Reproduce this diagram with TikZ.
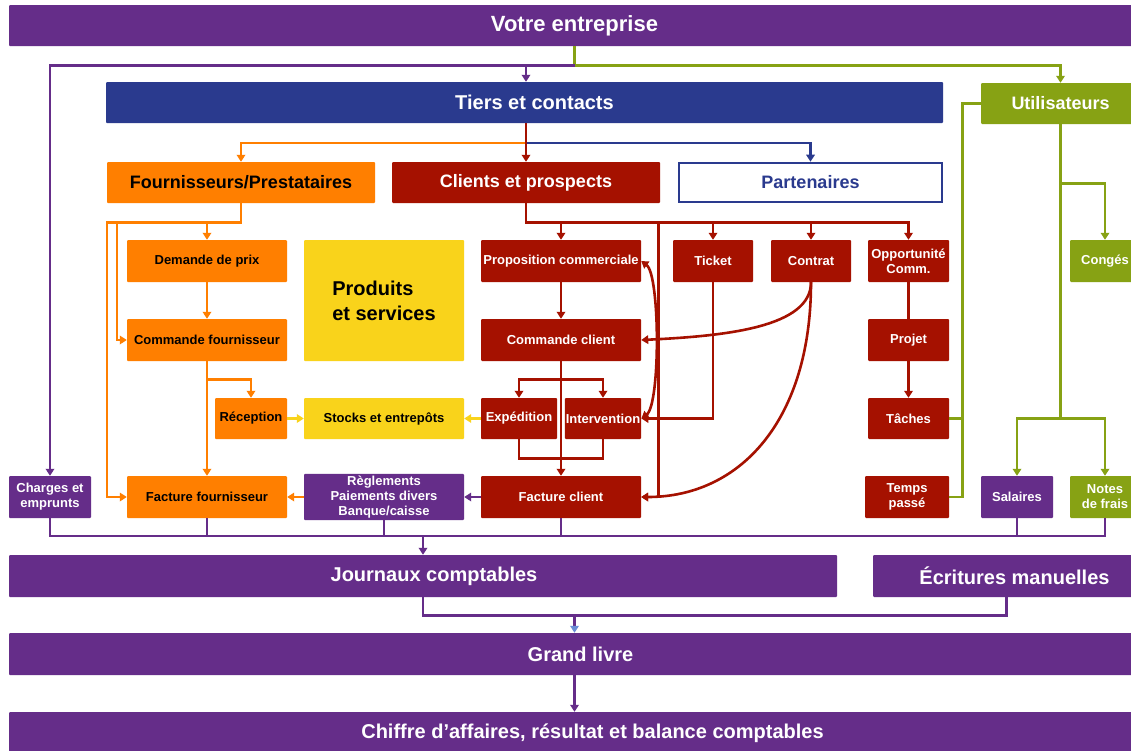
\documentclass[tikz,border=0pt]{standalone}
\usepackage{fontspec}
\setmainfont{Liberation Sans}
\usetikzlibrary{arrows.meta,calc}
\definecolor{cpur}{HTML}{652D89}
\definecolor{cblu}{HTML}{2A3A8E}
\definecolor{corg}{HTML}{FF7F00}
\definecolor{cred}{HTML}{A51100}
\definecolor{cgrn}{HTML}{87A214}
\definecolor{cyel}{HTML}{F9D31B}
\definecolor{cltb}{HTML}{6A8DD6}
\begin{document}
\begin{tikzpicture}[x=1pt,y=-1pt,
  bx/.style={rectangle, rounded corners=1pt, inner xsep=1pt, inner ysep=2pt, align=center,
    font=\bfseries\fontsize{13}{15}\selectfont, text=white},
  sz/.style 2 args={minimum width=#1pt, minimum height=#2pt},
  hd/.style={font=\bfseries\fontsize{18}{21}\selectfont},
  hg/.style={font=\bfseries\fontsize{20}{24}\selectfont},
  ln/.style={line width=2.6pt},
  arr/.style={ln, -{Triangle[length=7pt,width=8.5pt]}},
  arrb/.style={ln, {Triangle[length=7pt,width=8.5pt]}-{Triangle[length=7pt,width=8.5pt]}},
  fpur/.style={bx, fill=cpur},
  fblu/.style={bx, fill=cblu},
  forg/.style={bx, fill=corg, text=black},
  fred/.style={bx, fill=cred},
  fgrn/.style={bx, fill=cgrn},
  fyel/.style={bx, fill=cyel, text=black}
]
\useasboundingbox (0,0) rectangle (1131,750);
\fill[white] (0,0) rectangle (1131,750);

% ---------- nodes ----------
\node[fpur, sz={1131}{41}, font=\bfseries\fontsize{22}{26}\selectfont] (top) at (574.5,25.5) {Votre entreprise};
\node[fblu, sz={837}{41}, font=\bfseries\fontsize{20}{24}\selectfont] (tiers) at (524.5,102.5) {\hspace*{20pt}Tiers et contacts};
\node[fgrn, sz={159}{41}, hd] (utl) at (1060.5,103.5) {Utilisateurs};
\node[forg, sz={268}{41}, hd] (four) at (241,182.5) {Fournisseurs/Prestataires};
\node[fred, sz={268}{41}, hd] (clients) at (526,182.5) {Clients et prospects};
\node[bx, sz={263}{39}, hd, fill=white, draw=cblu, line width=2.6pt, text=cblu, rounded corners=0pt] (part) at (810.5,182.5) {Partenaires};

\node[forg, sz={160}{42}] (demande) at (207,261) {Demande de prix};
\node[fyel, sz={160}{121}, align=left, font=\bfseries\fontsize{20}{25}\selectfont] (prod) at (384,300.5) {\raisebox{-3pt}{Produits}\\\raisebox{-3pt}{et services}};
\node[forg, sz={160}{42}] (cfour) at (207,340) {Commande fournisseur};
\node[forg, sz={72}{41}] (reception) at (251,418.5) {Réception};
\node[fyel, sz={160}{41}] (stocks) at (384,418.5) {Stocks et entrepôts};
\node[forg, sz={160}{42}] (ffour) at (207,497) {Facture fournisseur};
\node[fpur, sz={160}{42}] (regl) at (384,497) {Règlements\\Paiements divers\\Banque/caisse};
\node[fpur, sz={82}{42}] (charges) at (50,497) {Charges et\\emprunts};

\node[fred, sz={160}{42}] (prop) at (561,261) {Proposition commerciale};
\node[fred, sz={80}{42}] (ticket) at (713,261) {Ticket};
\node[fred, sz={80}{42}] (contrat) at (811,261) {Contrat};
\node[fred, sz={81}{42}] (opp) at (908.5,261) {Opportunité\\Comm.};
\node[fred, sz={160}{42}] (cclient) at (561,340) {Commande client};
\node[fred, sz={81}{42}] (projet) at (908.5,340) {Projet};
\node[fred, sz={76}{41}] (exped) at (519,418.5) {Expédition};
\node[fred, sz={76}{41}] (interv) at (603,418.5) {Intervention};
\node[fred, sz={81}{41}] (taches) at (908.5,418.5) {Tâches};
\node[fred, sz={160}{42}] (fclient) at (561,497) {Facture client};
\node[fred, sz={84}{42}] (temps) at (907,497) {Temps\\passé};

\node[fgrn, sz={70}{42}] (conges) at (1105,261) {Congés};
\node[fpur, sz={72}{42}] (salaires) at (1017,497) {Salaires};
\node[fgrn, sz={70}{42}] (notes) at (1105,497) {Notes\\de frais};

\node[fpur, sz={828}{42}, hg] (journaux) at (423,576) {\hspace*{22pt}Journaux comptables};
\node[fpur, sz={267}{42}, hg] (ecrit) at (1006.5,576) {\hspace*{16pt}Écritures manuelles};
\node[fpur, sz={1131}{42}, hg] (grand) at (574.5,654) {\hspace*{12pt}Grand livre};
\node[fpur, sz={1131}{42}, hg] (chiffre) at (574.5,733) {\raisebox{2pt}{\hspace*{36pt}Chiffre d’affaires, résultat et balance comptables}};

% ---------- top connectors ----------
\coordinate (j1) at ($(top.south)+(0,19)$);
\draw[arr, cgrn] (top.south) -- (j1) -| (utl.north);
\draw[arr, cpur] (j1) -| (charges.north);
\draw[arr, cpur] (j1 -| clients.north) -- (tiers.north -| clients.north);

\coordinate (t1) at ($(clients.north)+(0,-19)$);
\draw[arr, corg] (t1) -| (four.north);
\draw[arr, cblu] (t1) -| (part.north);
\draw[arr, cred] (tiers.south -| clients.north) -- (clients.north);

% ---------- suppliers ----------
\coordinate (o1) at ($(four.south)+(0,19)$);
\draw[arr, corg] (four.south) -- (o1) -| ($(ffour.west)+(-20,0)$) -- (ffour.west);
\draw[arr, corg] (o1 -| demande.north) -- (demande.north);
\coordinate (o2) at ($(cfour.west)+(-10,0)$);
\draw[arr, corg] (o2 |- o1) -- (o2) -- (cfour.west);
\draw[arr, corg] (demande) -- (cfour);
\draw[arr, corg] (cfour) -- (ffour);
\draw[arr, corg] ($(cfour.south)+(0,18)$) -| (reception.north);
\draw[arr, cyel] (reception) -- (stocks);
\draw[arr, cyel] (exped) -- (stocks);
\draw[arr, corg] (regl) -- (ffour);
\draw[arr, cpur] (fclient) -- (regl);

% ---------- customers ----------
\coordinate (r1) at ($(clients.south)+(0,19)$);
\draw[arr, cred] (clients.south) -- (r1) -| (opp.north);
\draw[arr, cred] (r1 -| prop.north) -- (prop.north);
\draw[arr, cred] (r1 -| ticket.north) -- (ticket.north);
\draw[arr, cred] (r1 -| contrat.north) -- (contrat.north);
\coordinate (r2) at ($(fclient.east)+(17,0)$);
\draw[arr, cred] (r2 |- r1) -- (r2) -- (fclient.east);
\draw[arr, cred] (prop) -- (cclient);
\draw[arr, cred] (cclient) -- (fclient);
\coordinate (r3) at ($(cclient.south)+(0,18)$);
\draw[arr, cred] (r3) -| (exped.north);
\draw[arr, cred] (r3) -| (interv.north);
\draw[ln, cred] (exped.south) -- ++(0,19) -| (interv.south);
\draw[arr, cred] (ticket.south) |- (interv.east);
\draw[arrb, cred] (prop.east) .. controls ($(prop.east)+(19,14)$) and ($(interv.east)+(19,-14)$) .. (interv.east);
\draw[arr, cred] (contrat.south) .. controls ($(contrat.south)+(0,45)$) and ($(cclient.east)+(85,-4)$) .. (cclient.east);
\draw[arr, cred] (contrat.south) .. controls ($(contrat.south)+(0,138)$) and ($(fclient.east)+(99,0)$) .. (fclient.east);
\draw[ln, cred] (opp) -- (projet);
\draw[arr, cred] (projet) -- (taches);

% ---------- users ----------
\coordinate (g1) at ($(temps.east)+(13,0)$);
\draw[ln, cgrn] (utl.west) -| (g1) -- (temps.east);
\draw[ln, cgrn] (taches.east) -- (taches.east -| g1);
\coordinate (g2) at ($(utl.south)+(0,59)$);
\coordinate (g3) at (utl.south |- taches.east);
\draw[ln, cgrn] (utl.south) -- (g3);
\draw[arr, cgrn] (g2) -| (conges.north);
\draw[arr, cgrn] (g3) -| (salaires.north);
\draw[arr, cgrn] (g3) -| (notes.north);

% ---------- accounting ----------
\coordinate (p1) at ($(journaux.north)+(0,-19)$);
\draw[ln, cpur] (charges.south) |- (notes.south |- p1) -- (notes.south);
\draw[ln, cpur] (ffour.south) -- (ffour.south |- p1);
\draw[ln, cpur] (regl.south) -- (regl.south |- p1);
\draw[ln, cpur] (fclient.south) -- (fclient.south |- p1);
\draw[ln, cpur] (salaires.south) -- (salaires.south |- p1);
\draw[arr, cpur] (p1) -- (journaux.north);
\coordinate (p2) at ($(journaux.south)+(0,18)$);
\draw[ln, cpur] (journaux.south) -- (p2) -| (ecrit.south);
\draw[ln, cpur, -{Triangle[length=7pt,width=8.5pt,color=cltb]}] (p2 -| grand.north) -- (grand.north);
\draw[arr, cpur] (grand) -- (chiffre);
\end{tikzpicture}
\end{document}
